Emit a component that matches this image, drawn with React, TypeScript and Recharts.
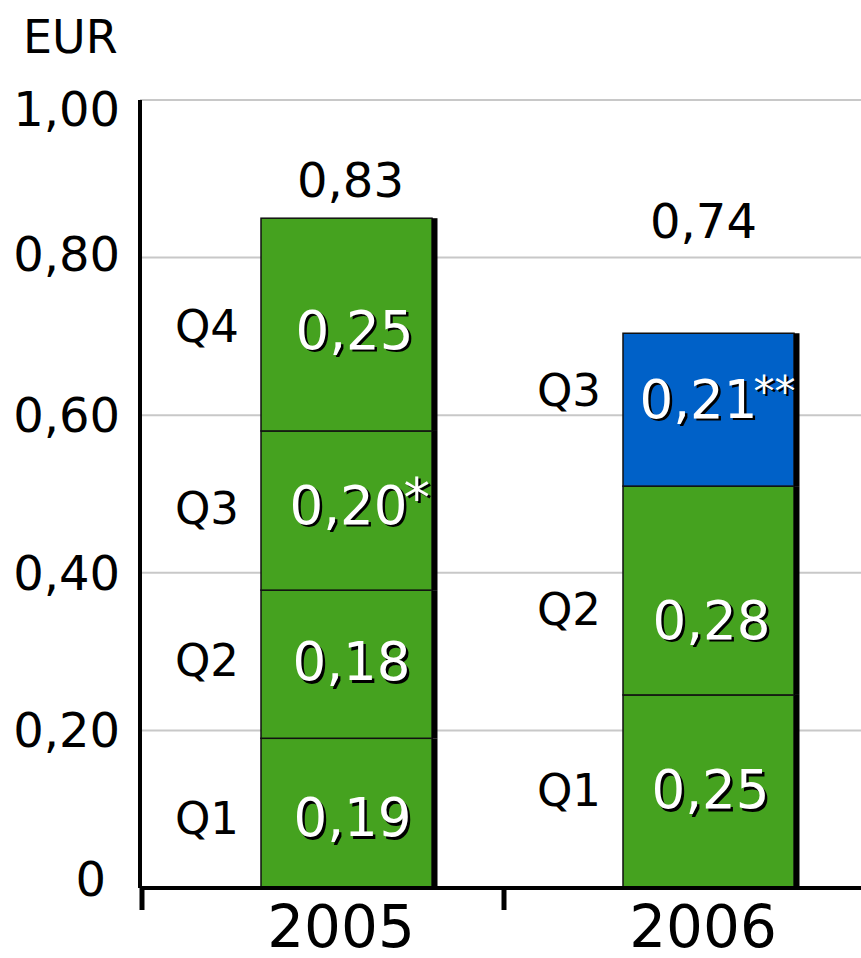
import React from "react";
import { BarChart, Bar, XAxis, YAxis, CartesianGrid, Cell } from "recharts";

// values as drawn (bar heights) and the printed labels
const years = ["2005", "2006"];
const quarters = ["Q1", "Q2", "Q3", "Q4"];
const q1Values = [0.19, 0.245];
const q2Values = [0.188, 0.265];
const q3Values = [0.202, 0.194];
const q4Values = [0.27, null];
const q1Labels = ["0,19", "0,25"];
const q2Labels = ["0,18", "0,28"];
const q3Labels = ["0,20", "0,21"];
const q4Labels = ["0,25", ""];
const q3Notes = ["*", "**"];
const totalLabels = ["0,83", "0,74"];
const yTicks = [0, 0.2, 0.4, 0.6, 0.8, 1.0];
const yTickLabels = ["0", "0,20", "0,40", "0,60", "0,80", "1,00"];

const GREEN = "#45A21F";
const BLUE = "#0061C8";
const FONT = "'DejaVu Sans', Verdana, sans-serif";
const q3Colors = [GREEN, BLUE];

const data = years.map((year, i) => ({
  year,
  q1: q1Values[i],
  q2: q2Values[i],
  q3: q3Values[i],
  q4: q4Values[i],
}));

const valueLabels = [q1Labels, q2Labels, q3Labels, q4Labels];
const notes = [["", ""], ["", ""], q3Notes, ["", ""]];

// text nudges, per quarter then per year
const valShiftX = [[6, 2], [5, 3], [2, -10], [8, 0]];
const valShiftY = [[4, -2], [-3, 29], [-6, -11], [5, 0]];
const qShiftY = [[5, -1], [-4, 18], [-3, -20], [1, 0]];
const totalLift = [21, 95];
const totalShiftX = [4, -5];

const isTop = (s: number, i: number) => {
  const series = [q1Values, q2Values, q3Values, q4Values];
  for (let k = series.length - 1; k >= 0; k--) {
    if (series[k][i] != null) return k === s;
  }
  return false;
};

const makeSegment = (s: number) => (props: any) => {
  const { x, y, width, height, payload, fill } = props;
  if (!height || height <= 0) return <g />;
  const i = years.indexOf(payload.year);
  const cx = x + width / 2;
  const cy = y + height / 2;
  const vx = cx + valShiftX[s][i];
  const vy = cy + valShiftY[s][i] + 19;
  const note = notes[s][i];
  const noteSize = note.length > 1 ? 42 : 53;
  const noteRaise = note.length > 1 ? 12 : 8;
  return (
    <g fontFamily={FONT}>
      <rect x={x} y={y} width={width} height={height} fill={fill} stroke="#111" strokeWidth={1.5} />
      <rect x={x + width} y={y} width={5.5} height={height} fill="#000" />
      <text x={x - 22} y={cy + qShiftY[s][i] + 16} textAnchor="end" fontSize={45} fill="#000">
        {quarters[s]}
      </text>
      <text x={vx + 2.5} y={vy + 2.5} textAnchor="middle" fontSize={53} fill="#000">
        {valueLabels[s][i]}
      </text>
      <text x={vx} y={vy} textAnchor="middle" fontSize={53} fill="#fff">
        {valueLabels[s][i]}
      </text>
      {note && (
        <>
          <text x={vx + 57.5} y={vy - noteRaise + 2.5} fontSize={noteSize} fill="#000">{note}</text>
          <text x={vx + 55} y={vy - noteRaise} fontSize={noteSize} fill="#fff">{note}</text>
        </>
      )}
      {isTop(s, i) && (
        <text x={cx + totalShiftX[i]} y={y - totalLift[i]} textAnchor="middle" fontSize={48} fill="#000">
          {totalLabels[i]}
        </text>
      )}
    </g>
  );
};

const YTick = (props: any) => {
  const { x, y, payload } = props;
  const k = yTicks.indexOf(payload.value);
  const shiftY = [-9, 0, 0, 0, -4, 9][k] ?? 0;
  const shiftX = k === 0 ? -14 : 0;
  return (
    <text x={x + shiftX} y={y + shiftY + 17} textAnchor="end" fontSize={48} fontFamily={FONT} fill="#000">
      {yTickLabels[k]}
    </text>
  );
};

const XTick = (props: any) => {
  const { x, y, payload } = props;
  return (
    <g>
      <line x1={x - 204} x2={x - 204} y1={y} y2={y + 22} stroke="#000" strokeWidth={5} />
      <text x={x - 5} y={y + 59} textAnchor="middle" fontSize={58} fontFamily={FONT} fill="#000">
        {payload.value}
      </text>
    </g>
  );
};

const EurLabel = () => (
  <text x={23} y={53} fontSize={46} fontFamily={FONT} fill="#000">
    EUR
  </text>
);

export default function App() {
  return (
    <div style={{ position: "fixed", left: 0, top: 0, width: 861, height: 958, overflow: "hidden", background: "#fff" }}>
      <BarChart width={889} height={958} data={data} margin={{ top: 100, right: 0, left: 0, bottom: 0 }} barSize={171}>
        <CartesianGrid vertical={false} stroke="#c8c8c8" strokeWidth={2} />
        <XAxis
          dataKey="year"
          height={70}
          padding={{ left: 25, right: 0 }}
          axisLine={{ stroke: "#000", strokeWidth: 4 }}
          tickLine={false}
          tickSize={0}
          tickMargin={0}
          interval={0}
          tick={<XTick />}
        />
        <YAxis
          width={140}
          domain={[0, 1]}
          ticks={yTicks}
          axisLine={{ stroke: "#000", strokeWidth: 4 }}
          tickLine={false}
          tickSize={0}
          tickMargin={20}
          tick={<YTick />}
          label={{ content: <EurLabel /> }}
        />
        <Bar dataKey="q1" stackId="a" fill={GREEN} shape={makeSegment(0)} isAnimationActive={false} />
        <Bar dataKey="q2" stackId="a" fill={GREEN} shape={makeSegment(1)} isAnimationActive={false} />
        <Bar dataKey="q3" stackId="a" fill={GREEN} shape={makeSegment(2)} isAnimationActive={false}>
          {years.map((yr, i) => (
            <Cell key={yr} fill={q3Colors[i]} />
          ))}
        </Bar>
        <Bar dataKey="q4" stackId="a" fill={GREEN} shape={makeSegment(3)} isAnimationActive={false} />
      </BarChart>
    </div>
  );
}
